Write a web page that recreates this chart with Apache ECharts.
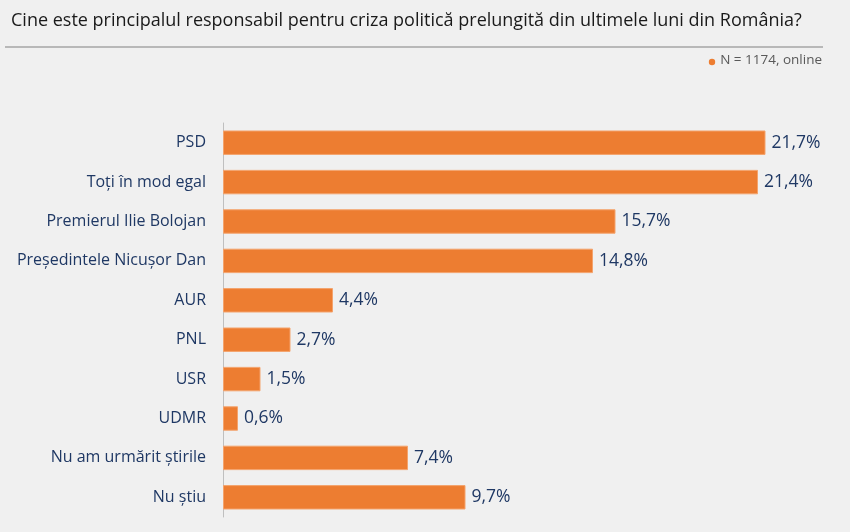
<!DOCTYPE html>
<html>
<head>
<meta charset="utf-8">
<script src="https://cdn.jsdelivr.net/npm/echarts@6/dist/echarts.min.js"></script>
<style>
  html, body { margin: 0; padding: 0; background: #f0f0f0; }
  #main { width: 850px; height: 532px; }
</style>
</head>
<body>
<div id="main"></div>
<script>
var chartDom = document.getElementById('main');
var myChart = echarts.init(chartDom);
var option;

// categorii (de sus in jos)
var categories = [
    'PSD',
    'Toți în mod egal',
    'Premierul Ilie Bolojan',
    'Președintele Nicușor Dan',
    'AUR',
    'PNL',
    'USR',
    'UDMR',
    'Nu am urmărit știrile',
    'Nu știu'
];
// procente
var values = [21.7, 21.4, 15.7, 14.8, 4.4, 2.7, 1.5, 0.6, 7.4, 9.7];

var titleText = 'Cine este principalul responsabil pentru criza politică prelungită din ultimele luni din România?';
var noteText = 'N = 1174, online';

option = {
    backgroundColor: '#f0f0f0',
    textStyle: { fontFamily: 'Open Sans' },
    title: {
        text: titleText,
        left: 6,
        top: 7,
        textStyle: {
            fontFamily: 'Open Sans',
            fontSize: 18,
            fontWeight: 'normal',
            color: '#1a1a1a'
        }
    },
    graphic: [
        {
            type: 'line',
            shape: { x1: 5, y1: 47, x2: 823, y2: 47 },
            style: { stroke: '#a6a6a6', lineWidth: 1.5 }
        },
        {
            type: 'circle',
            shape: { cx: 712, cy: 62, r: 3.2 },
            style: { fill: '#ed7d31' }
        },
        {
            type: 'text',
            right: 28,
            top: 53,
            style: {
                text: noteText,
                fontFamily: 'Open Sans',
                fontSize: 13.5,
                fill: '#595959'
            }
        }
    ],
    grid: {
        left: 223,
        right: 2,
        top: 123,
        bottom: 15,
        containLabel: false,
        outerBoundsMode: 'none'
    },
    xAxis: {
        type: 'value',
        min: 0,
        max: 25,
        show: false
    },
    yAxis: {
        type: 'category',
        inverse: true,
        data: categories,
        axisLine: { lineStyle: { color: '#bfbfbf', width: 1 } },
        axisTick: { length: 5, lineStyle: { color: '#bfbfbf' } },
        axisLabel: {
            margin: 17,
            fontSize: 16,
            color: '#1f3864',
            fontFamily: 'Open Sans'
        }
    },
    series: [
        {
            type: 'bar',
            data: values,
            barCategoryGap: '38%',
            itemStyle: {
                color: '#ed7d31',
                borderColor: '#f4a36c',
                borderWidth: 1
            },
            label: {
                show: true,
                position: 'right',
                distance: 6,
                fontSize: 17.5,
                color: '#1f3864',
                fontFamily: 'Open Sans',
                formatter: function (p) {
                    return p.value.toFixed(1).replace('.', ',') + '%';
                }
            },
            silent: true
        }
    ]
};

option && myChart.setOption(option);
</script>
</body>
</html>
